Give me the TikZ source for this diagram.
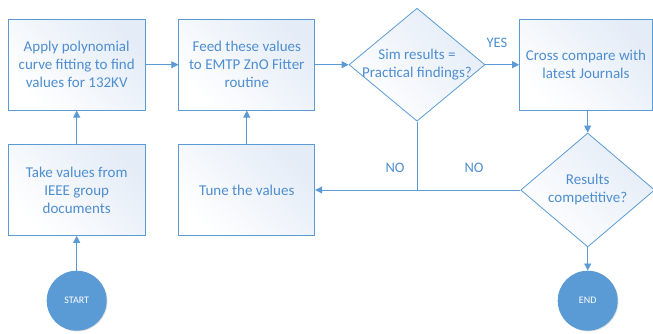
\documentclass[tikz,border=0pt]{standalone}
\usepackage{fontspec}
\setmainfont{Carlito}
\usetikzlibrary{shapes.geometric,arrows.meta,shadows}
\definecolor{edge}{HTML}{5B9BD5}
\definecolor{txt}{HTML}{4E8ED0}
\definecolor{pale}{HTML}{E4ECF7}
\tikzset{
  box/.style={draw=edge, line width=0.8pt, shading=axis, left color=pale, right color=white, shading angle=-45,
    minimum width=137pt, minimum height=91pt, inner sep=0pt, align=center, text=txt,
    font=\fontsize{15}{18}\selectfont},
  dia/.style={draw=edge, line width=0.8pt, diamond, shading=axis, left color=pale, right color=white, shading angle=-45,
    minimum width=136pt, minimum height=113pt, inner sep=0pt},
  dtext/.style={align=center, text=txt, font=\fontsize{15}{18}\selectfont, inner sep=0pt},
  term/.style={circle, fill=edge, minimum size=60pt, inner sep=0pt, text=white,
    font=\fontsize{10}{12}\selectfont, drop shadow={opacity=0.25, shadow xshift=0.8pt, shadow yshift=-0.8pt}},
  lbl/.style={text=txt, font=\fontsize{14.5}{18}\selectfont, inner sep=0pt},
  arr/.style={draw=edge, line width=0.9pt, -{Triangle[width=7pt,length=7pt]}},
  ln/.style={draw=edge, line width=0.9pt}
}
\begin{document}
\begin{tikzpicture}[x=1pt,y=-1pt]
\useasboundingbox (0,0) rectangle (653,334);
\node[box] (apply) at (76.7,64.7) {Apply polynomial\\curve fitting to find\\values for 132KV};
\node[box, minimum width=136pt] (feed) at (246.8,64.7) {Feed these values\\to EMTP ZnO Fitter\\routine};
\node[dia] (sim) at (417,64.7) {};
\node[dtext] (simt) at (sim.center) {Sim results =\\Practical findings?};
\node[box, minimum width=133pt] (cross) at (586,64.7) {Cross compare with\\latest Journals};
\node[box] (take) at (76.7,190) {Take values from\\IEEE group\\documents};
\node[box, minimum width=136pt] (tune) at (246.8,190) {Tune the values};
\node[dia, minimum width=134pt, minimum height=114pt] (comp) at (587.7,190) {};
\node[dtext] (compt) at (comp.center) {Results\\competitive?};
\node[term] (start) at (76.7,300.7) {START};
\node[term] (end) at (587.7,300.7) {END};
\coordinate (join) at (sim.south |- tune.east);
\draw[arr] (start) -- (take);
\draw[arr] (take) -- (apply);
\draw[arr] (apply) -- (feed);
\draw[arr] (feed) -- (sim);
\draw[arr] (sim) -- (cross);
\draw[arr] (comp.north |- cross.south) -- (comp.north);
\draw[arr] (comp) -- (end);
\draw[arr] (comp.west) -- (tune.east);
\draw[ln] (sim.south) -- (join);
\draw[arr] (tune) -- (feed);
\node[lbl] (yes) at (497,43) {YES};
\node[lbl] (no1) at (395,168) {NO};
\node[lbl] (no2) at (474,168) {NO};
\end{tikzpicture}
\end{document}
